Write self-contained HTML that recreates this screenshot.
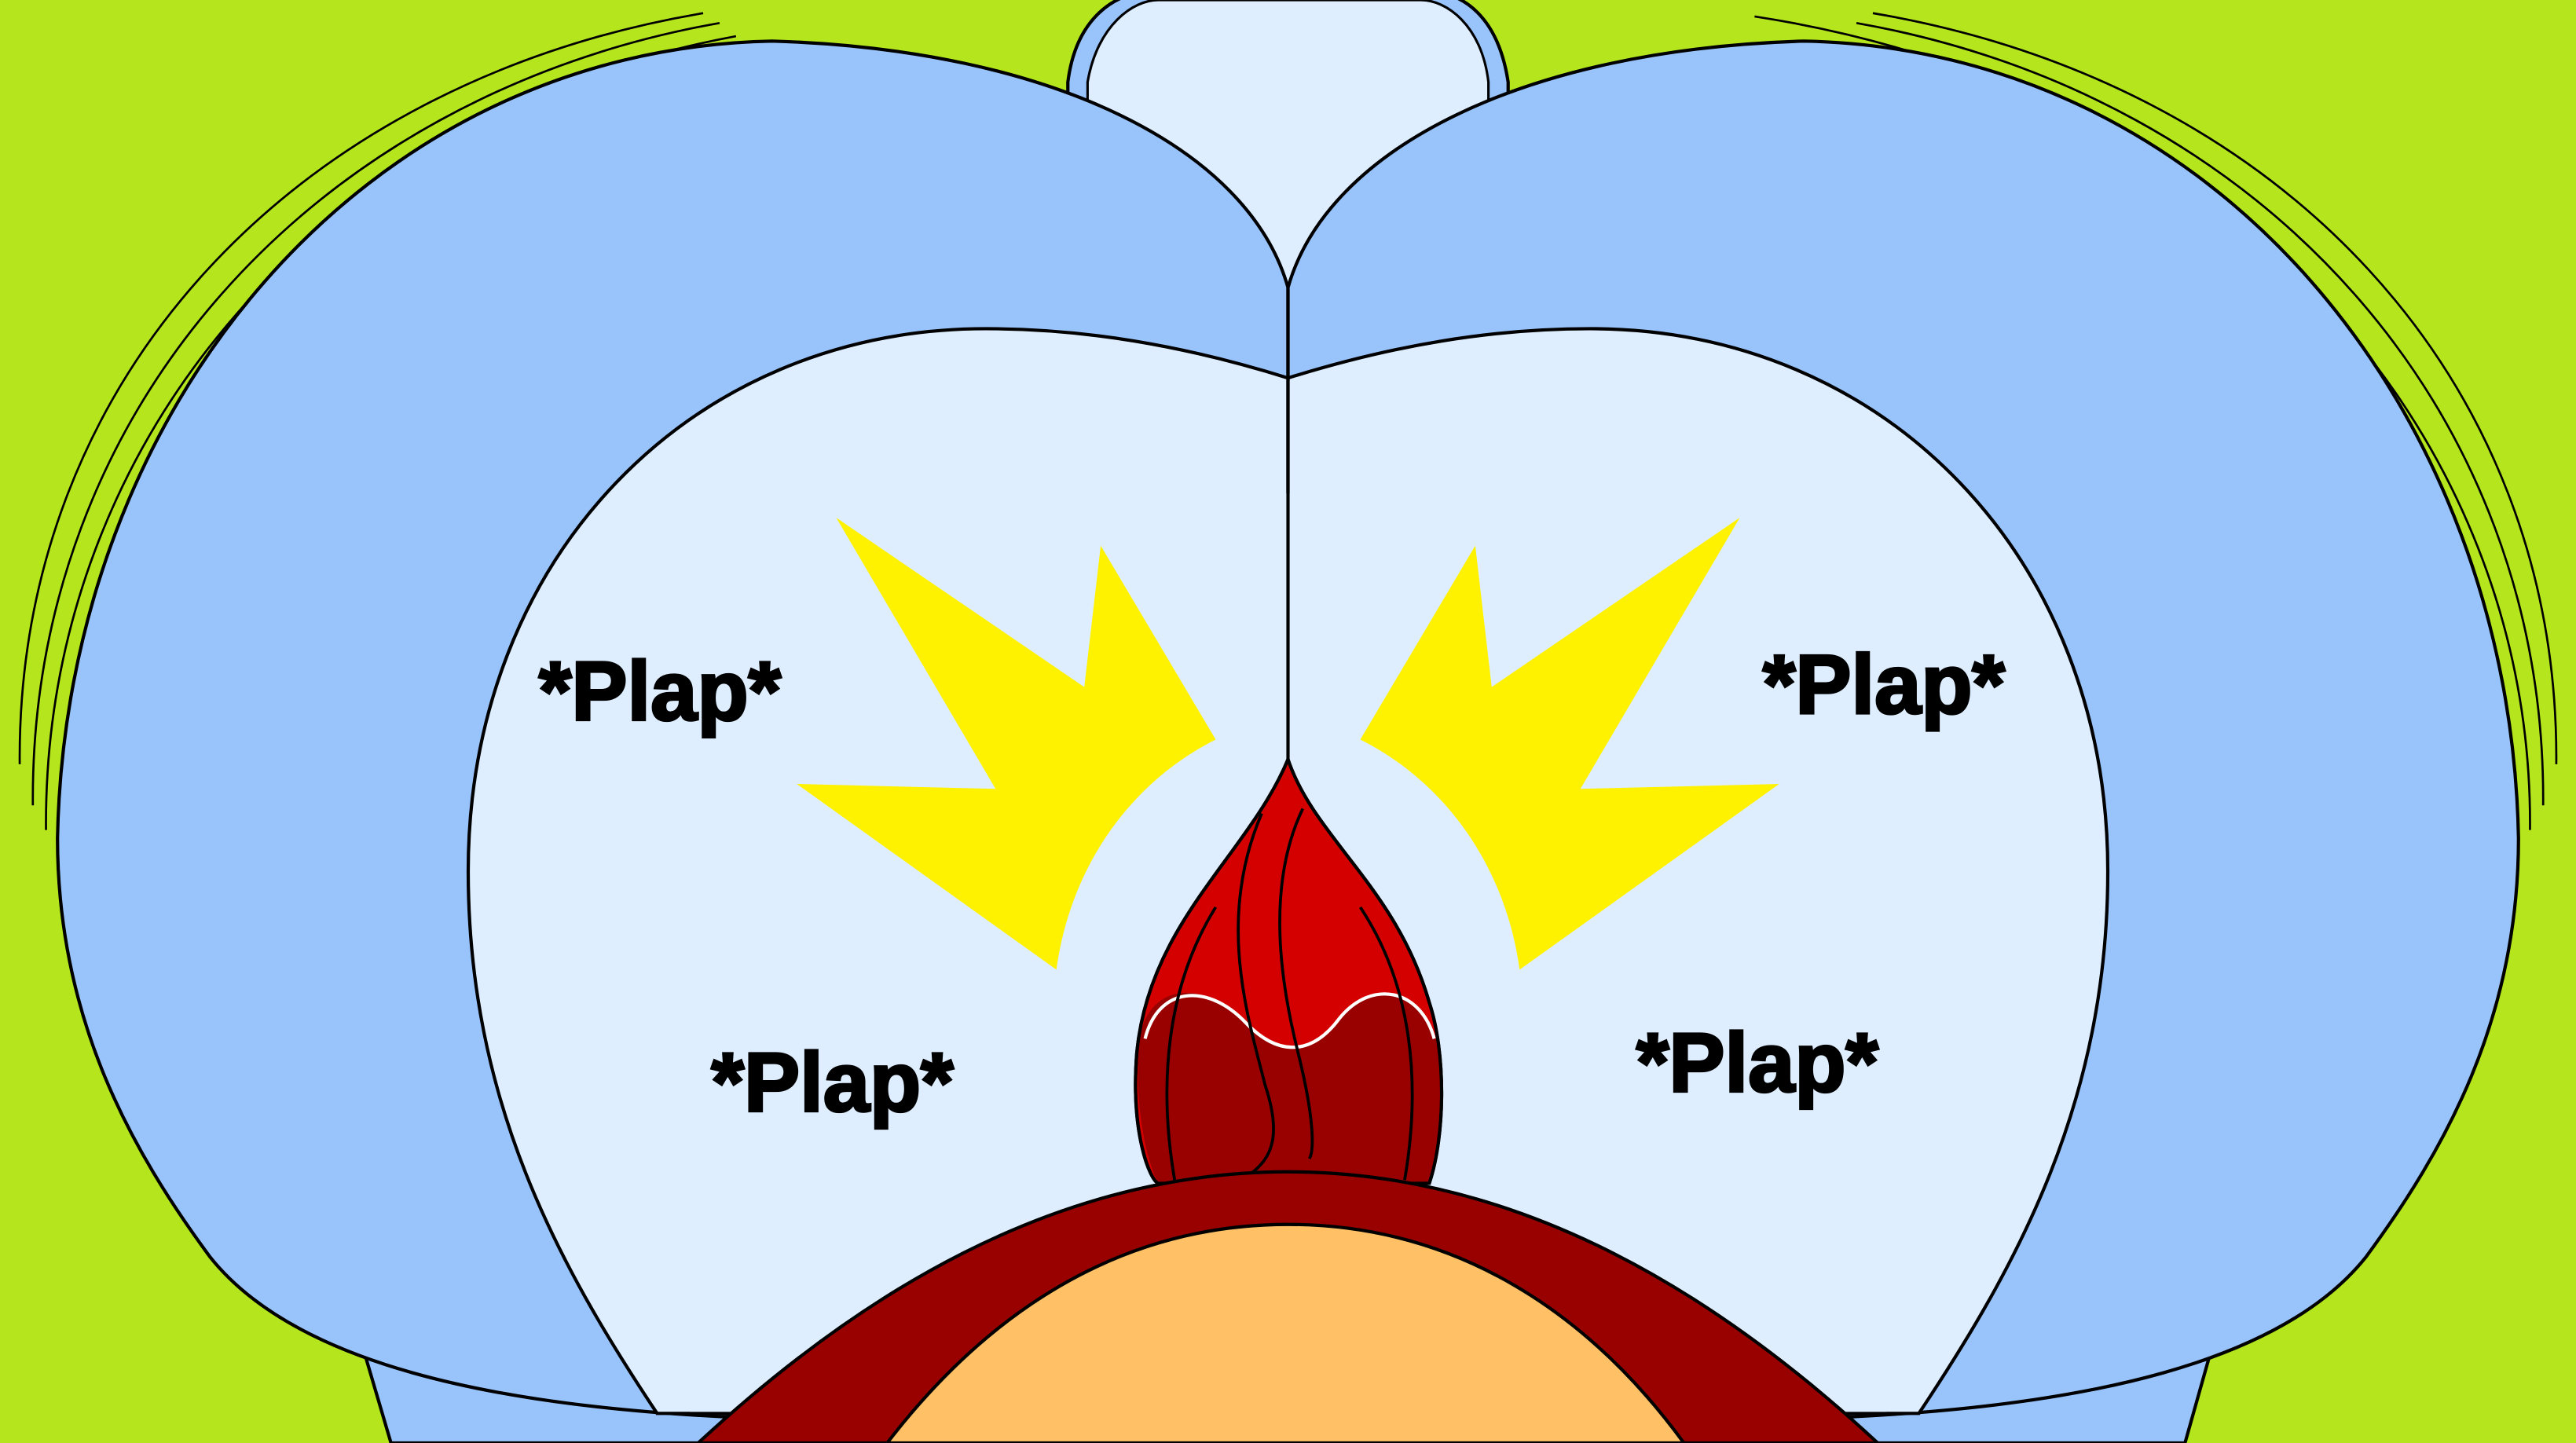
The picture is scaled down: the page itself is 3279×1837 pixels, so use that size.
<!DOCTYPE html>
<html><head><meta charset="utf-8"><style>
html,body{margin:0;padding:0;background:#b5e61d;overflow:hidden}
svg{display:block}
</style></head><body>
<svg width="3279" height="1837" viewBox="0 0 1568 878" preserveAspectRatio="none" xmlns="http://www.w3.org/2000/svg">
<rect width="1568" height="878" fill="#b5e61d"/>
<!-- motion lines -->
<g fill="none" stroke="#000" stroke-width="1.3">
<path d="M428,8 C180,50 10,230 12,465"/>
<path d="M438,14 C190,58 18,250 20,490"/>
<path d="M448,22 C200,68 26,265 28,505"/>
<path d="M1140,8 C1388,50 1558,230 1556,465"/>
<path d="M1130,14 C1378,58 1550,250 1548,490"/>
<path d="M1068,10 C1360,55 1542,265 1540,505"/>
</g>
<!-- top center bump -->
<path d="M650,50 C655,10 680,-5 700,-5 L870,-5 C890,-5 912,10 918,50 L918,260 L650,260 Z" fill="#99c4fb" stroke="#000" stroke-width="2"/>
<path d="M662,50 C668,15 690,0 705,0 L865,0 C880,0 902,15 906,50 L906,260 L662,260 Z" fill="#dfeeff" stroke="#000" stroke-width="1.5"/>
<!-- bottom thighs -->
<path d="M215,800 L238,878 L1330,878 L1352,800 Z" fill="#99c4fb" stroke="#000" stroke-width="2"/>
<!-- big cheeks -->
<path d="M784,175 C760,90 640,30 470,25 C220,30 40,250 35,510 C35,620 80,700 128,765 C180,830 300,855 440,862 L784,862 Z" fill="#99c4fb" stroke="#000" stroke-width="2"/>
<path d="M784,175 C808,90 928,30 1098,25 C1348,30 1528,250 1533,510 C1533,620 1488,700 1440,765 C1388,830 1268,855 1128,862 L784,862 Z" fill="#99c4fb" stroke="#000" stroke-width="2"/>
<!-- inner cheeks -->
<path d="M784,230 C720,210 660,200 600,200 C420,200 285,340 285,530 C285,670 340,770 400,860 L784,860 Z" fill="#dfeeff" stroke="#000" stroke-width="2"/>
<path d="M784,230 C848,210 908,200 968,200 C1148,200 1283,340 1283,530 C1283,670 1228,770 1168,860 L784,860 Z" fill="#dfeeff" stroke="#000" stroke-width="2"/>
<rect x="420" y="300" width="728" height="559" fill="#dfeeff"/>
<line x1="784" y1="175" x2="784" y2="465" stroke="#000" stroke-width="2"/>
<!-- yellow bursts -->
<path d="M509,315 L660,418 L670,332 L740,450 C690,475 652,525 643,590 L485,477 L606,480 Z" fill="#fff200"/>
<path d="M1059,315 L908,418 L898,332 L828,450 C878,475 916,525 925,590 L1083,477 L962,480 Z" fill="#fff200"/>
<!-- red tail -->
<path d="M784,462 C760,520 700,560 692,640 C688,690 700,718 705,720 L870,720 C880,690 880,640 870,610 C850,540 800,510 784,462 Z" fill="#d40000" stroke="#000" stroke-width="2"/>
<path d="M694,630 C700,600 730,595 755,620 C780,645 800,640 815,620 C835,595 865,600 874,632 C880,660 878,700 870,720 L705,720 C695,700 690,660 694,630 Z" fill="#990000"/>
<path d="M697,632 C705,600 735,598 758,622 C780,645 800,640 815,620 C835,595 865,602 873,632" fill="none" stroke="#fff" stroke-width="2"/>
<g fill="none" stroke="#000" stroke-width="1.8">
<path d="M740,552 C710,600 705,660 715,718"/>
<path d="M768,495 C740,560 760,620 770,660 C780,690 775,705 760,715"/>
<path d="M793,492 C770,540 780,600 790,640 C800,680 800,700 797,705"/>
<path d="M828,552 C860,600 865,660 855,718"/>
</g>
<path d="M784,462 C760,520 700,560 692,640 C688,690 700,718 705,720 L870,720 C880,690 880,640 870,610 C850,540 800,510 784,462 Z" fill="none" stroke="#000" stroke-width="2"/>
<!-- bottom head -->
<path d="M425,878 C520,790 640,713 784,713 C928,713 1048,790 1143,878 Z" fill="#990000" stroke="#000" stroke-width="2"/>
<path d="M540,878 C600,800 680,745 784,745 C888,745 968,800 1025,878 Z" fill="#ffc066" stroke="#000" stroke-width="2"/>
<!-- text -->
<g font-family="Liberation Sans, Arial, sans-serif" font-weight="bold" font-size="51" fill="#000" stroke="#000" stroke-width="1.6">
<text x="328" y="438">*Plap*</text>
<text x="433" y="676">*Plap*</text>
<text x="1073" y="434">*Plap*</text>
<text x="996" y="664">*Plap*</text>
</g>
</svg>
</body></html>
